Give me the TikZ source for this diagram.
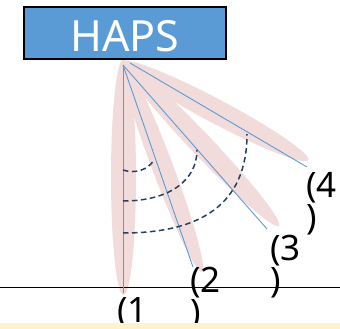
\documentclass[tikz,border=0pt]{standalone}
\usepackage{fontspec}
\setmainfont{Noto Sans}
\definecolor{hapsblue}{HTML}{5B9BD5}
\definecolor{beampink}{HTML}{F2DCDB}
\definecolor{arcnavy}{HTML}{243F60}
\definecolor{bandyellow}{HTML}{FFF2CC}
\tikzset{
  beamshape/.style={fill=beampink, draw=none},
  beamline/.style={draw=hapsblue, line width=0.9pt},
  arcline/.style={draw=arcnavy, line width=1.5pt, dash pattern=on 5.5pt off 3.5pt},
  lbl/.style={inner sep=0pt, align=left, font=\fontsize{35}{32}\selectfont, text=black},
}
\begin{document}
\begin{tikzpicture}[x=1pt,y=-1pt]
\useasboundingbox (0,0) rectangle (340,329);
\clip (0,0) rectangle (340,329);
% pink beam areas
\fill[beamshape] (123.5,177) ellipse[x radius=12.5, y radius=118];
\fill[beamshape, rotate around={-69.4:(162.5,167)}] (162.5,167) ellipse[x radius=112, y radius=10.5];
\fill[beamshape, rotate around={-46.4:(201,144)}] (201,144) ellipse[x radius=113, y radius=11];
\fill[beamshape, rotate around={-27.9:(215.5,111)}] (215.5,111) ellipse[x radius=105, y radius=12];
% ground
\draw[black, line width=1pt] (0,287) -- (340,287);
% HAPS box
\node[draw=black, line width=2pt, fill=hapsblue, minimum width=202pt, minimum height=52pt, inner sep=0pt] (haps) at (125,33) {};
\node[inner sep=0pt, anchor=base, text=white, font=\fontsize{43}{43}\selectfont] (hapstext) at (125,52) {HAPS};
% beams
\coordinate (apex) at (123,65);
\coordinate (apexb) at (130,63);
\coordinate (e1) at (123,293);
\coordinate (e2) at (193,267);
\coordinate (e3) at (267,229);
\coordinate (e4) at (307,167);
\draw[beamline] (apex) -- (e1);
\draw[beamline] (apex) -- (e2);
\draw[beamline] (apex) -- (e3);
\draw[beamline] (apexb) -- (e4);
% dashed arcs
\coordinate (a1s) at (123,170);
\coordinate (a1e) at (154,160);
\coordinate (a2s) at (123,201);
\coordinate (a2e) at (197,150);
\coordinate (a3s) at (123,233);
\coordinate (a3e) at (247,134);
\draw[arcline] (a1s) .. controls (135,174) and (148,170) .. (a1e);
\draw[arcline] (a2s) .. controls (170,201) and (197,180) .. (a2e);
\draw[arcline] (a3s) .. controls (200,233) and (247,205) .. (a3e);
% labels (anchor at the baseline of the second line)
\node[lbl, anchor=base west] (l1) at (117,354) {(1\\)};
\node[lbl, anchor=base west] (l2) at (190,324) {(2\\)};
\node[lbl, anchor=base west] (l3) at (270,292) {(3\\)};
\node[lbl, anchor=base west] (l4) at (306,229) {(4\\)};
% bottom band
\fill[bandyellow] (0,323) rectangle (340,329);
\end{tikzpicture}
\end{document}
